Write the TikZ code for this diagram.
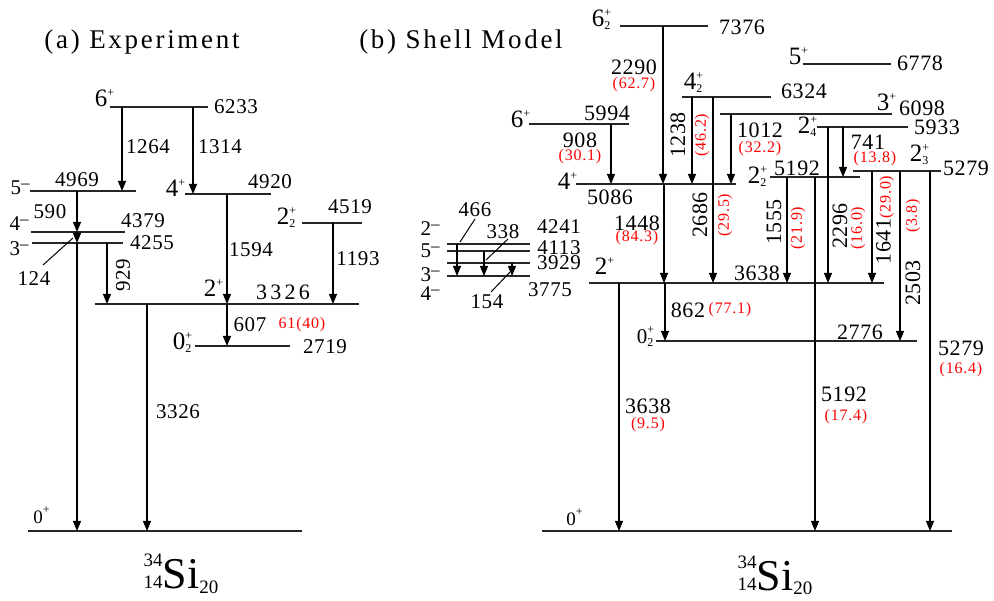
\documentclass[tikz,border=0pt]{standalone}
\usepackage{fontspec}
\setmainfont{Liberation Serif}
\usetikzlibrary{arrows.meta}

\newcommand\Jp[3]{#1{\fontsize{12}{12}\selectfont\rlap{\raisebox{10pt}{#2}}\rlap{\raisebox{-3pt}{#3}}\hspace{7.5pt}}}
\newcommand\Jm[1]{#1\raisebox{0.3em}{\fontsize{17}{17}\selectfont –}}
\newcommand\nuc{{\fontsize{19}{19}\selectfont\rlap{\raisebox{22pt}{34}}14}{\fontsize{44}{44}\selectfont Si}{\fontsize{19}{19}\selectfont\raisebox{-5pt}{20}}}
\newcommand\mklevel[4]{\coordinate (#1a) at (#2,#4); \coordinate (#1b) at (#3,#4); \draw[lvl] (#1a) -- (#1b);}
\newcommand\mktrans[4]{\coordinate (#1s) at (#2,#3); \coordinate (#1e) at (#2,#4); \draw[trans] (#1s) -- (#1e);}

\tikzset{
  lvl/.style={line width=1.5pt, black!85},
  trans/.style={line width=1.1pt, -{Triangle[length=10pt,width=8pt]}},
  ptr/.style={line width=1pt},
  num/.style={inner sep=0pt, font=\fontsize{21}{21}\selectfont\addfontfeatures{LetterSpace=3}},
  rnum/.style={inner sep=0pt, font=\fontsize{22}{22}\selectfont\addfontfeatures{LetterSpace=3}},
  red/.style={inner sep=0pt, text=red, font=\fontsize{16}{16}\selectfont\addfontfeatures{LetterSpace=5}},
  spin/.style={inner sep=0pt, font=\fontsize{25}{25}\selectfont},
  title/.style={inner sep=0pt, font=\fontsize{27}{27}\selectfont\addfontfeatures{LetterSpace=10}},
}

\begin{document}
\begin{tikzpicture}[x=1pt,y=-1pt]
\useasboundingbox (0,0) rectangle (994,601);

% ================= (a) Experiment =================
\node[title] (titA) at (142,42) {(a) Experiment};

\mklevel{La}{110}{208}{107}
\mklevel{Lb}{30}{136}{191}
\mklevel{Lc}{185}{271}{194}
\mklevel{Ld}{31}{125}{232}
\mklevel{Le}{32}{123}{243}
\mklevel{Lf}{302}{362}{223}
\mklevel{Lg}{95}{359}{304}
\mklevel{Lh}{195}{290}{346}
\mklevel{Li}{28}{302}{531}

\node[spin] (sLa) at (101,100) {\Jp{6}{+}{}};
\node[num] (eLa) at (236,107) {6233};
\node[num] (sLb) at (20,188) {\Jm{5}};
\node[num] (eLb) at (77,180) {4969};
\node[spin] (sLc) at (172,190) {\Jp{4}{+}{}};
\node[num] (eLc) at (270,182) {4920};
\node[num] (sLd) at (19,224) {\Jm{4}};
\node[num] (eLd) at (143,221) {4379};
\node[num] (sLe) at (19,249) {\Jm{3}};
\node[num] (eLe) at (152,243) {4255};
\node[spin] (sLf) at (283,218) {\Jp{2}{+}{2}};
\node[num] (eLf) at (350,207) {4519};
\node[spin] (sLg) at (210,290) {\Jp{2}{+}{}};
\node[num, font=\fontsize{22}{22}\selectfont\addfontfeatures{LetterSpace=15}] (eLg) at (283,292) {3326};
\node[spin] (sLh) at (179,343) {\Jp{0}{+}{2}};
\node[num] (eLh) at (325,347) {2719};
\node[spin, font=\fontsize{19}{19}\selectfont] (sLi) at (38,517) {\Jp{0}{+}{}};

\mktrans{Ta}{122}{107}{191}
\node[num] (lTa) at (148,147) {1264};
\mktrans{Tb}{193}{107}{194}
\node[num] (lTb) at (220,147) {1314};
\mktrans{Tc}{77}{191}{232}
\node[num] (lTc) at (50,212) {590};
\mktrans{Td}{77}{232}{243}
\node[num] (lTd) at (34,279) {124};
\coordinate (pTd1) at (43,265);
\coordinate (pTd2) at (73,238);
\draw[ptr] (pTd1) -- (pTd2);
\mktrans{Te}{107}{243}{304}
\node[num, rotate=90] (lTe) at (123,275) {929};
\mktrans{Tf}{227}{194}{304}
\node[num] (lTf) at (251,250) {1594};
\mktrans{Tg}{333}{223}{304}
\node[num] (lTg) at (358,259) {1193};
\mktrans{Th}{227}{304}{346}
\node[num] (lTh) at (250,325) {607};
\node[red] (rTh) at (302,325) {61(40)};
\mktrans{Ti}{77}{243}{531}
\mktrans{Tj}{147}{304}{531}
\node[num] (lTj) at (178,412) {3326};

\node[anchor=base, inner sep=0pt] (isoA) at (181,588) {\nuc};

% ================= (b) Shell Model =================
\node[title] (titB) at (461,42) {(b) Shell Model};

\mklevel{Ra}{620}{708}{26}
\mklevel{Rb}{803}{891}{64}
\mklevel{Rc}{682}{771}{97}
\mklevel{Rd}{720}{892}{114}
\mklevel{Re}{529}{629}{124}
\mklevel{Rf}{817}{908}{127}
\mklevel{Rg}{853}{941}{171}
\mklevel{Rh}{770}{860}{177}
\mklevel{Ri}{576}{736}{184}
\mklevel{Rj}{447}{530}{244}
\mklevel{Rk}{447}{530}{251}
\mklevel{Rl}{447}{530}{263}
\mklevel{Rm}{447}{530}{276}
\mklevel{Rn}{589}{884}{283}
\mklevel{Ro}{656}{917}{341}
\mklevel{Rp}{542}{952}{531}

\node[spin] (sRa) at (598,20) {\Jp{6}{+}{2}};
\node[rnum] (eRa) at (742,27) {7376};
\node[spin] (sRb) at (795,58) {\Jp{5}{+}{}};
\node[rnum] (eRb) at (920,63) {6778};
\node[spin] (sRc) at (690,83) {\Jp{4}{+}{2}};
\node[rnum] (eRc) at (804,91) {6324};
\node[spin] (sRd) at (883,104) {\Jp{3}{+}{}};
\node[rnum] (eRd) at (922,108) {6098};
\node[spin] (sRe) at (517,121) {\Jp{6}{+}{}};
\node[rnum] (eRe) at (607,113) {5994};
\node[spin] (sRf) at (804,127) {\Jp{2}{+}{4}};
\node[rnum] (eRf) at (937,127) {5933};
\node[spin] (sRg) at (916,155) {\Jp{2}{+}{3}};
\node[rnum] (eRg) at (966,168) {5279};
\node[spin] (sRh) at (754,177) {\Jp{2}{+}{2}};
\node[rnum] (eRh) at (797,168) {5192};
\node[spin] (sRi) at (564,183) {\Jp{4}{+}{}};
\node[rnum] (eRi) at (610,197) {5086};
\node[num] (sRj) at (430,229) {\Jm{2}};
\node[num] (eRj) at (559,227) {4241};
\node[num] (sRk) at (430,251) {\Jm{5}};
\node[num] (eRk) at (559,248) {4113};
\node[num] (sRl) at (430,275) {\Jm{3}};
\node[num] (eRl) at (559,263) {3929};
\node[num] (sRm) at (430,294) {\Jm{4}};
\node[num] (eRm) at (550,290) {3775};
\node[spin] (sRn) at (601,268) {\Jp{2}{+}{}};
\node[rnum] (eRn) at (757,273) {3638};
\node[spin, font=\fontsize{21}{21}\selectfont] (sRo) at (642,337) {\Jp{0}{+}{2}};
\node[rnum] (eRo) at (860,332) {2776};
\node[spin, font=\fontsize{19}{19}\selectfont] (sRp) at (571,519) {\Jp{0}{+}{}};

% transitions
\mktrans{Ua}{663}{26}{184}
\node[rnum] (lUa) at (634,67) {2290};
\node[red] (rUa) at (634,85) {(62.7)};
\mktrans{Ub}{611}{124}{184}
\node[rnum] (lUb) at (580,140) {908};
\node[red] (rUb) at (580,157) {(30.1)};
\mktrans{Uc}{692}{97}{184}
\node[rnum, rotate=90] (lUc) at (678,135) {1238};
\node[red, rotate=90] (rUc) at (702,135) {(46.2)};
\mktrans{Ud}{713}{97}{283}
\node[rnum, rotate=90] (lUd) at (700,215) {2686};
\node[red, rotate=90] (rUd) at (725,215) {(29.5)};
\mktrans{Ue}{731}{114}{184}
\node[rnum] (lUe) at (760,130) {1012};
\node[red] (rUe) at (760,149) {(32.2)};
\mktrans{Uf}{843}{127}{177}
\node[rnum] (lUf) at (868,142) {741};
\node[red] (rUf) at (875,159) {(13.8)};
\mktrans{Ug}{828}{127}{283}
\node[rnum, rotate=90] (lUg) at (840,226) {2296};
\node[red, rotate=90] (rUg) at (858,228) {(16.0)};
\mktrans{Uh}{787}{177}{283}
\node[rnum, rotate=90] (lUh) at (774,222) {1555};
\node[red, rotate=90] (rUh) at (798,228) {(21.9)};
\mktrans{Ui}{815}{177}{531}
\node[rnum] (lUi) at (844,394) {5192};
\node[red] (rUi) at (846,417) {(17.4)};
\mktrans{Uj}{872}{171}{283}
\node[rnum, rotate=90] (lUj) at (885,220) {1641{\color{red}\fontsize{16}{16}\selectfont\addfontfeatures{LetterSpace=5}(29.0)}};
\mktrans{Uk}{900}{171}{341}
\node[rnum, rotate=90] (lUk) at (913,283) {2503};
\node[red, rotate=90] (rUk) at (913,216) {(3.8)};
\mktrans{Ul}{930}{171}{531}
\node[rnum] (lUl) at (961,348) {5279};
\node[red] (rUl) at (961,370) {(16.4)};
\mktrans{Um}{664}{184}{283}
\node[rnum] (lUm) at (637,223) {1448};
\node[red] (rUm) at (637,238) {(84.3)};
\mktrans{Un}{665}{283}{341}
\node[rnum] (lUn) at (688,310) {862};
\node[red] (rUn) at (730,310) {(77.1)};
\mktrans{Uo}{619}{283}{531}
\node[rnum] (lUo) at (648,406) {3638};
\node[red] (rUo) at (648,425) {(9.5)};

% negative parity cluster
\mktrans{Up}{457}{244}{276}
\node[num] (lUp) at (475,210) {466};
\coordinate (pUp1) at (475,219);
\coordinate (pUp2) at (460,242);
\draw[ptr] (pUp1) -- (pUp2);
\mktrans{Uq}{484}{251}{276}
\node[num] (lUq) at (503,232) {338};
\coordinate (pUq1) at (508,239);
\coordinate (pUq2) at (486,260);
\draw[ptr] (pUq1) -- (pUq2);
\mktrans{Ur}{512}{263}{276}
\node[num] (lUr) at (487,302) {154};
\coordinate (pUr1) at (491,292);
\coordinate (pUr2) at (510,272);
\draw[ptr] (pUr1) -- (pUr2);

\node[anchor=base, inner sep=0pt] (isoB) at (775,590) {\nuc};
\end{tikzpicture}
\end{document}
